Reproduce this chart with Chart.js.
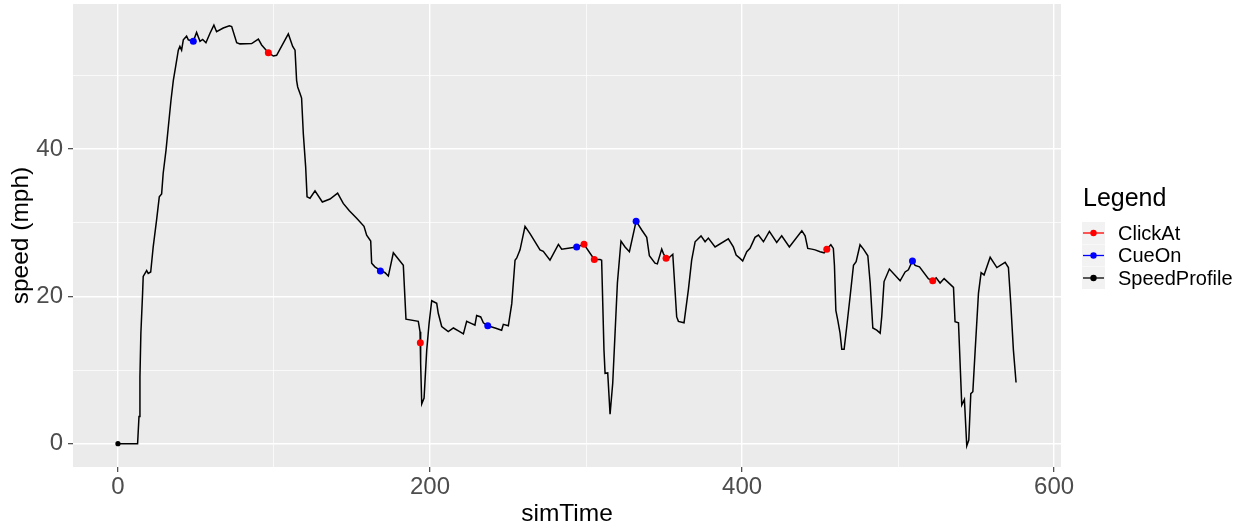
<!DOCTYPE html>
<html><head><meta charset="utf-8">
<script src="https://cdn.jsdelivr.net/npm/chart.js@4.4.1/dist/chart.umd.min.js"></script>
<style>html,body{margin:0;padding:0;background:#fff}canvas{display:block}</style>
</head><body>
<canvas id="c" width="1245" height="529"></canvas>
<script>
const speedTime = [0, 12.6, 13.5, 14.1, 14.7, 15.8, 16.2, 18.4, 19.4, 21, 22.6, 24.8, 26.5, 28, 29, 30.8, 32.3, 34, 35.5, 37, 38.7, 39.7, 40.8, 41.9, 44, 45.1, 48.3, 50.4, 52.6, 54.3, 56.4, 59, 61.5, 63.2, 67.5, 71.4, 72.9, 76.1, 78.2, 85.7, 90, 92.1, 96.4, 99.6, 101.7, 109.2, 112, 113.5, 114.5, 115.2, 116.7, 117.7, 118.8, 120.3, 121.2, 123.1, 126.3, 131, 135.9, 140.8, 144.4, 148.3, 153, 157.7, 159.4, 162, 162.6, 164.7, 168.4, 171.2, 173.3, 176.5, 182.9, 184.6, 192.5, 193.6, 193.8, 194.2, 194.7, 196.2, 197.9, 199.4, 201.1, 204.3, 205.3, 207.5, 211.7, 215, 218.2, 221.4, 223.5, 226.7, 228.8, 229.9, 232.5, 234.2, 237, 241.7, 245.9, 247, 250.2, 252.4, 254.5, 255.6, 257.7, 260.9, 264.1, 270.5, 272.6, 276.9, 282.3, 284.4, 294, 298.7, 305.3, 309, 310, 311.5, 312.2, 313.9, 315.4, 317.1, 318.6, 320.1, 322.4, 325, 327.8, 332.1, 335.7, 338.9, 340.6, 344.2, 345.7, 348.5, 349.6, 351.3, 352.8, 355.6, 358.1, 359.2, 362.8, 365.6, 367.7, 369.9, 370.9, 373.7, 376.3, 378.4, 382.7, 391.2, 394.4, 396.2, 398.7, 400.4, 403, 405.1, 408.3, 410.5, 413.7, 417.5, 422.2, 425.4, 430.3, 438.3, 440.4, 442.1, 444.7, 446.8, 450, 452.6, 454.3, 456.9, 458.5, 459.2, 460.1, 461.3, 462.8, 463.9, 465.4, 467.1, 469.2, 471.4, 473.1, 475.6, 477.8, 480.6, 482.1, 483.8, 486.3, 488.5, 489.5, 491, 494.4, 501.3, 504.5, 506.6, 509.2, 510.9, 513.7, 519.4, 522.2, 524.4, 526.9, 529.5, 535.5, 536.5, 538.7, 540.8, 542.5, 544, 545.3, 546.6, 547.9, 549.4, 551.5, 553.2, 555.1, 559, 563.3, 568.6, 570.7, 572.2, 573.9, 575.6];
const speedValue = [0, 0, 3.7, 9.1, 15, 20.4, 22.7, 23.5, 23.1, 23.3, 26.7, 30.4, 33.5, 33.9, 36.7, 39.8, 43, 46.6, 49.3, 51.2, 53.4, 53.9, 53.4, 54.8, 55.3, 54.8, 54.6, 55.8, 54.6, 54.85, 54.4, 55.7, 56.8, 55.9, 56.4, 56.7, 56.6, 54.4, 54.25, 54.3, 54.9, 54.1, 53.05, 52.6, 52.7, 55.6, 53.9, 53.4, 49.3, 48.4, 47.5, 46.9, 42.1, 37.6, 33.5, 33.3, 34.3, 32.8, 33.2, 34.0, 32.6, 31.6, 30.6, 29.5, 28.3, 27.5, 24.5, 24.0, 23.5, 23.2, 22.75, 25.9, 24.2, 16.9, 16.6, 15.2, 13.7, 10.9, 5.4, 6.2, 12.7, 16.3, 19.4, 19.05, 17.7, 15.9, 15.2, 15.7, 15.3, 14.9, 16.6, 16.3, 16.1, 17.4, 17.2, 16.4, 16, 15.7, 15.4, 16.2, 16, 19, 24.9, 25.2, 26.3, 29.5, 28.5, 26.3, 26.1, 24.9, 27.05, 26.4, 26.7, 27.05, 25, 25, 24.9, 12.7, 9.55, 9.6, 4.0, 8.2, 15, 21.8, 27.5, 26.7, 26.05, 30.2, 29, 28, 25.5, 24.5, 24.4, 26.4, 25.8, 25.15, 25.15, 25.7, 17.2, 16.6, 16.4, 20.9, 24.9, 27.4, 27.6, 28.2, 27.4, 27.9, 26.7, 27.8, 26.7, 25.6, 25.15, 24.8, 26.05, 26.5, 28, 28.3, 27.4, 28.8, 27.3, 28.2, 26.7, 28.9, 28.2, 26.5, 26.4, 26.3, 26.05, 25.9, 26.4, 27, 26.5, 24.2, 18.1, 16.8, 15, 12.8, 12.8, 15.9, 19.9, 24.2, 24.7, 27, 26.4, 25.5, 21.8, 15.7, 15.4, 15, 17.2, 22, 23.7, 22.1, 23.3, 23.6, 24.8, 24.2, 24, 22.4, 22.1, 22.5, 21.8, 22.4, 21.2, 16.55, 16.4, 5.25, 6, -0.3, 0.5, 6.8, 7.05, 12.7, 20.4, 23.2, 22.9, 25.3, 23.9, 24.6, 23.9, 19.05, 12.7, 8.3];
const cueTime = [48.3, 168.2, 237, 294, 332.1, 509.2];
const cueSpeed = [54.6, 23.45, 16, 26.7, 30.2, 24.8];
const clickTime = [96.4, 193.8, 298.7, 305.3, 351.3, 454.3, 522.2];
const clickSpeed = [53.05, 13.7, 27.05, 25, 25.15, 26.4, 22.1];
const startTime = [0];
const startSpeed = [0];
const xTicks = [0, 100, 200, 300, 400, 500, 600];
const yTicks = [0, 10, 20, 30, 40, 50];
const xLabelTicks = [0, 200, 400, 600];
const yLabelTicks = [0, 20, 40];
const seriesNames = ['ClickAt', 'CueOn', 'SpeedProfile'];
const seriesColors = ['#FF0000', '#0000FF', '#000000'];
const legendTitle = 'Legend';

const FONT = '"Liberation Sans", Arial, sans-serif';
Chart.defaults.font.family = FONT;

const zip = (xs, ys) => xs.map((x, i) => ({x: x, y: ys[i]}));

const bgPlugin = {
  id: 'ggbg',
  beforeDraw(chart) {
    const {ctx, chartArea: a} = chart;
    ctx.save();
    ctx.fillStyle = '#FFFFFF';
    ctx.fillRect(0, 0, chart.width, chart.height);
    ctx.fillStyle = '#EBEBEB';
    ctx.fillRect(a.left, a.top, a.right - a.left, a.bottom - a.top);
    ctx.restore();
  }
};

const legendPlugin = {
  id: 'ggLegend',
  afterDraw(chart) {
    const ctx = chart.ctx;
    ctx.save();
    ctx.fillStyle = '#000';
    ctx.textAlign = 'left';
    ctx.textBaseline = 'alphabetic';
    ctx.font = '25px ' + FONT;
    ctx.fillText(legendTitle, 1083, 206);
    seriesNames.forEach((name, i) => {
      const cy = 233 + i * 22.5;
      ctx.fillStyle = '#F2F2F2';
      ctx.fillRect(1082, cy - 11, 23, 22);
      ctx.strokeStyle = seriesColors[i];
      ctx.lineWidth = 1.3;
      ctx.beginPath(); ctx.moveTo(1083, cy); ctx.lineTo(1104, cy); ctx.stroke();
      ctx.fillStyle = seriesColors[i];
      ctx.beginPath(); ctx.arc(1093.5, cy, 3.2, 0, Math.PI * 2); ctx.fill();
      ctx.fillStyle = '#000';
      ctx.font = '20px ' + FONT;
      ctx.textBaseline = 'middle';
      ctx.fillText(name, 1118, cy + 1);
    });
    ctx.restore();
  }
};

const zeroPad = s => { s.paddingTop = 0; s.paddingBottom = 0; s.paddingLeft = 0; s.paddingRight = 0; };

new Chart(document.getElementById('c'), {
  type: 'scatter',
  data: {
    datasets: [
      {label: 'SpeedProfile', data: zip(speedTime, speedValue), showLine: true, borderColor: '#000', borderWidth: 1.5, pointRadius: 0, tension: 0, order: 3},
      {label: 'SpeedProfileStart', data: zip(startTime, startSpeed), pointRadius: 2.6, pointBackgroundColor: '#000', pointBorderWidth: 0, order: 2},
      {label: 'CueOn', data: zip(cueTime, cueSpeed), pointRadius: 3.5, pointBackgroundColor: '#0000FF', pointBorderWidth: 0, order: 1},
      {label: 'ClickAt', data: zip(clickTime, clickSpeed), pointRadius: 3.5, pointBackgroundColor: '#FF0000', pointBorderWidth: 0, order: 0}
    ]
  },
  options: {
    responsive: false,
    animation: false,
    devicePixelRatio: 1,
    layout: {padding: {top: 4, right: 184, bottom: 0, left: 0}},
    plugins: {legend: {display: false}, tooltip: {enabled: false}},
    scales: {
      x: {
        type: 'linear', min: -28.8, max: 604.4,
        afterBuildTicks: s => { s.ticks = xTicks.map(v => ({value: v})); },
        afterFit: s => { s.height = 62; zeroPad(s); },
        border: {display: false},
        ticks: {autoSkip: false, maxRotation: 0, padding: 1, color: '#4D4D4D', font: {size: 24},
          callback: v => xLabelTicks.includes(v) ? String(v) : ''},
        grid: {color: '#FFFFFF', tickLength: 5, tickWidth: 1.1,
          lineWidth: c => (c.tick && xLabelTicks.includes(c.tick.value)) ? 1.4 : 0.7,
          tickColor: c => (c.tick && xLabelTicks.includes(c.tick.value)) ? '#333333' : 'rgba(0,0,0,0)'},
        title: {display: true, text: 'simTime', color: '#000', font: {size: 24.5, lineHeight: 1.2}, padding: {top: 0, bottom: 0}}
      },
      y: {
        type: 'linear', min: -3.16, max: 59.66,
        afterBuildTicks: s => { s.ticks = yTicks.map(v => ({value: v})); },
        afterFit: s => { s.width = 73; zeroPad(s); },
        border: {display: false},
        ticks: {padding: 5, color: '#4D4D4D', font: {size: 24},
          callback: v => yLabelTicks.includes(v) ? String(v) : ''},
        grid: {color: '#FFFFFF', tickLength: 5, tickWidth: 1.1,
          lineWidth: c => (c.tick && yLabelTicks.includes(c.tick.value)) ? 1.4 : 0.7,
          tickColor: c => (c.tick && yLabelTicks.includes(c.tick.value)) ? '#333333' : 'rgba(0,0,0,0)'},
        title: {display: true, text: 'speed (mph)', color: '#000', font: {size: 24.5, lineHeight: 1.2}, padding: {top: 7, bottom: 0}}
      }
    }
  },
  plugins: [bgPlugin, legendPlugin]
});
</script>
</body></html>
